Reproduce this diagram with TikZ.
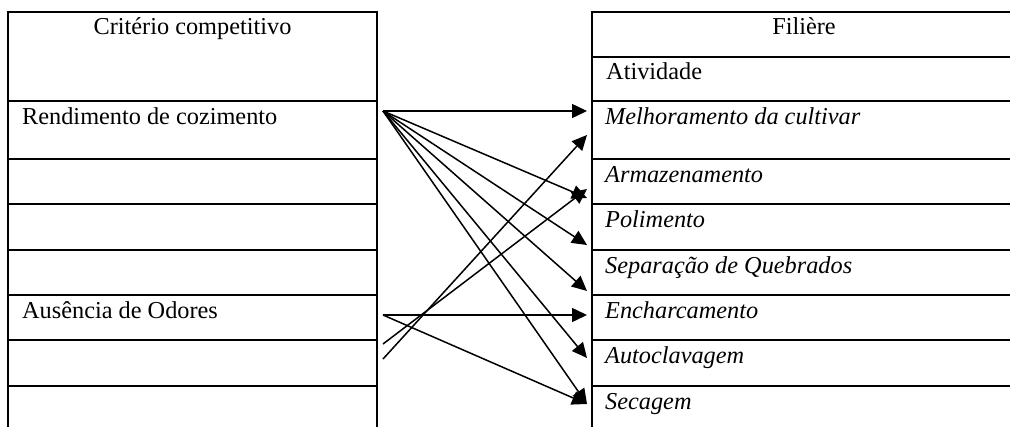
\documentclass[tikz,border=0pt]{standalone}
\usepackage{fontspec}
\setmainfont{Liberation Serif}
\usetikzlibrary{arrows.meta}
\begin{document}
\begin{tikzpicture}[x=1pt,y=-1pt,
  grid/.style={line width=2.3pt,line cap=rect},
  conn/.style={line width=1.5pt,-{Triangle[length=15pt,width=14pt]}},
  lbl/.style={anchor=base west,inner sep=0pt,font=\fontsize{24.3}{28}\selectfont},
  hdr/.style={anchor=base,inner sep=0pt,font=\fontsize{24.3}{28}\selectfont},
  itl/.style={lbl,font=\fontsize{24.3}{28}\selectfont\itshape}]
\useasboundingbox (0,0) rectangle (1010,426);
% left table
\draw[grid] (8,12) -- (8,426) (377,12) -- (377,426);
\foreach \y in {12,101,159,204,250,295,340,386} \draw[grid] (8,\y) -- (377,\y);
% right table
\draw[grid] (592,12) -- (592,426);
\foreach \y in {12,57,101,159,204,250,295,340,386} \draw[grid] (592,\y) -- (1012,\y);
% texts
\node[hdr] (crit) at (192.5,34) {Critério competitivo};
\node[lbl] (rend) at (22,124) {Rendimento de cozimento};
\node[lbl] (aus) at (22,318) {Ausência de Odores};
\node[hdr] (fil) at (804,34) {Filière};
\node[lbl] (ativ) at (606,79) {Atividade};
\node[itl] (mel) at (605,124) {Melhoramento da cultivar};
\node[itl] (arm) at (605,182) {Armazenamento};
\node[itl] (pol) at (605,227) {Polimento};
\node[itl] (sep) at (605,273) {Separação de Quebrados};
\node[itl] (enc) at (605,318) {Encharcamento};
\node[itl] (aut) at (605,363) {Autoclavagem};
\node[itl] (sec) at (605,409) {Secagem};
% connector end points
\coordinate (r) at (383,111);
\coordinate (a) at (383,315);
\coordinate (l1) at (383,344);
\coordinate (l2) at (383,359);
\coordinate (tmel) at (587,111);
\coordinate (tmel2) at (587,135);
\coordinate (tarm) at (587,198);
\coordinate (tarm2) at (587,189);
\coordinate (tpol) at (587,245);
\coordinate (tsep) at (587,291);
\coordinate (tenc) at (587,315);
\coordinate (taut) at (587,358);
\coordinate (tsec) at (587,404);
% connectors
\draw[conn] (r) -- (tmel);
\draw[conn] (r) -- (tarm);
\draw[conn] (r) -- (tpol);
\draw[conn] (r) -- (tsep);
\draw[conn] (r) -- (taut);
\draw[conn] (r) -- (tsec);
\draw[conn] (a) -- (tenc);
\draw[conn] (a) -- (tsec);
\draw[conn] (l1) -- (tarm2);
\draw[conn] (l2) -- (tmel2);
\end{tikzpicture}
\end{document}
